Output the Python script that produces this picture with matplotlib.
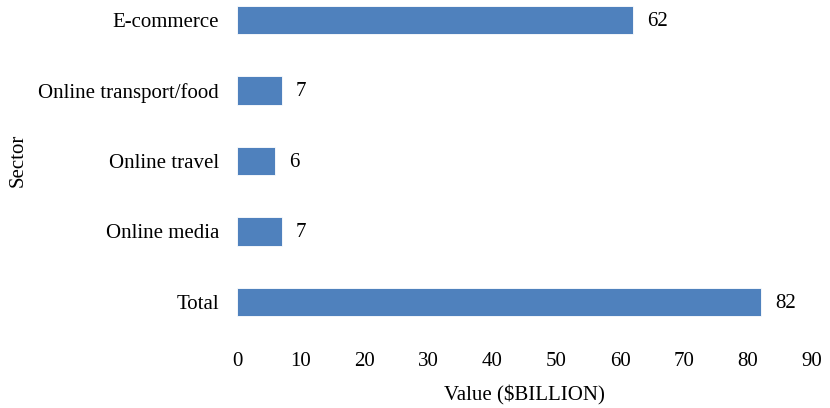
import matplotlib.pyplot as plt

# Dados (de cima para baixo)
sectors = ['E-commerce', 'Online transport/food', 'Online travel', 'Online media', 'Total']
values = [62, 7, 6, 7, 82]
xticks = [0, 10, 20, 30, 40, 50, 60, 70, 80, 90]

plt.rcParams['font.family'] = ['Liberation Serif', 'DejaVu Serif']
fs = 15

fig = plt.figure(figsize=(8.3, 4.08), dpi=100)
ax = fig.add_axes([237 / 830, 68 / 408, 575 / 830, 338 / 408])

pos = list(range(len(sectors)))[::-1]
ax.barh(pos, values, height=0.4, color='#4F81BD', edgecolor='white', linewidth=0.6)

for p, v in zip(pos, values):
    ax.annotate(str(v), xy=(v, p), xytext=(10, -1), textcoords='offset points',
                ha='left', va='center', fontsize=fs, color='black')

ax.set_xlim(0, 90)
ax.set_ylim(-0.539, 4.255)
ax.set_xticks(xticks)
ax.set_yticks(pos)
ax.set_yticklabels(sectors)
ax.tick_params(axis='both', length=0, labelsize=fs, colors='black')
ax.tick_params(axis='x', pad=9)
ax.tick_params(axis='y', pad=13)
for s in ax.spines.values():
    s.set_visible(False)

ax.set_xlabel('Value ($BILLION)', fontsize=fs, color='black', labelpad=10)
fig.text(18 / 830, 1 - 160 / 408, 'Sector', rotation=90, ha='center', va='center',
         fontsize=fs, color='black')

plt.savefig('out.png', dpi=100)
